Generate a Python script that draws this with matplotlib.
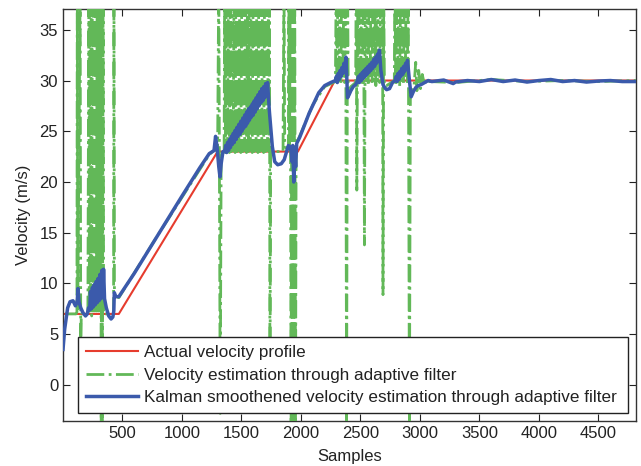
import matplotlib
matplotlib.use("Agg")
import matplotlib.pyplot as plt

plt.rcParams['font.family'] = ['Liberation Sans', 'DejaVu Sans']

# ---------------- data ----------------
red_x = [1, 470, 1300, 1975, 2285, 4815]
red_y = [7.0, 7.0, 23.0, 23.0, 30.0, 30.0]

green_x = [20, 110, 118, 121, 125, 145, 150, 155, 210,
           218, 222, 228, 232, 238, 242, 248, 252, 258, 262, 268, 272, 278, 282,
           288, 292, 298, 302, 308, 312, 318, 322, 328, 332, 338, 342, 348,
           355, 420, 426, 429, 433, 440, 470, 800, 1230, 1280, 1300,
           1310, 1322, 1330, 1345, 1355,
           1359, 1367, 1375, 1383, 1391, 1399, 1407, 1415, 1423, 1431, 1439, 1447,
           1455, 1463, 1471, 1479, 1487, 1495, 1503, 1511, 1519, 1527, 1535, 1543,
           1551, 1559, 1567, 1575, 1583, 1591, 1599, 1607, 1615, 1623, 1631, 1639,
           1647, 1655, 1663, 1671, 1679, 1687, 1695, 1703, 1711, 1719, 1727, 1733,
           1736, 1740, 1746, 1850, 1858, 1864, 1880, 1895,
           1898, 1905, 1910, 1918, 1924, 1930, 1936, 1942, 1948, 1955, 1960, 1970,
           2000, 2100, 2200, 2290,
           2296, 2304, 2312, 2320, 2328, 2336, 2344, 2352, 2360, 2368, 2376, 2384,
           2392, 2398, 2420, 2440, 2460, 2466, 2470, 2478, 2486, 2494, 2502, 2510,
           2518, 2526, 2534, 2542, 2550, 2558, 2566, 2574, 2582, 2590, 2598, 2606,
           2614, 2622, 2630, 2638, 2646, 2654, 2662, 2670, 2678, 2686, 2690, 2696,
           2702, 2720, 2760, 2785,
           2790, 2798, 2806, 2814, 2822, 2830, 2838, 2846, 2854, 2862, 2870, 2878,
           2886, 2894, 2902, 2912, 2920, 2935, 2950, 2965, 2975, 2990, 3005, 3020,
           3040, 3060, 3080, 3300, 3600, 3900, 4200, 4500, 4815]
green_y = [7.0, 7.0, 7.2, 41.3, 7.5, 39.2, 4.0, 7.0, 7.0,
           38.4, 7.0, 41.7, 7.2, 39.6, 6.8, 42.8, 7.0, 38.9, 8.5, 40.9, 7.0, 43.2, 9.0,
           39.3, 7.0, 41.1, 8.8, 38.2, 7.0, 42.1, -4.0, 39.8, -4.0, 41.4, 7.0, 7.0,
           7.0, 7.0, 7.0, 40.5, 9.0, 8.8, 8.6, 14.8, 22.7, 23.2, 23.0,
           40.3, -2.8, 22.5, 23.0, 23.0,
           38.2, 22.9, 41.5, 23.1, 39.4, 22.9, 42.7, 23.0, 37.8, 23.1, 40.6, 22.9,
           43.1, 23.0, 39.0, 23.1, 41.9, 22.9, 38.6, 23.0, 42.3, 23.1, 40.1, 22.9,
           37.9, 23.0, 41.2, 23.1, 43.4, 22.9, 39.7, 23.0, 38.3, 23.1, 42.0, 22.9,
           40.8, 23.0, 38.7, 23.1, 43.0, 22.9, 39.2, 23.0, 41.6, 23.1, 38.0, 23.0,
           41.0, -2.2, 23.0, 23.0, 39.5, 23.5, 23.3, 23.5,
           40.7, 23.2, 38.5, -3.8, 42.2, -3.8, 39.3, -3.8, 41.4, -3.8, 23.5, 24.0,
           24.8, 27.6, 29.4, 29.9,
           38.6, 29.8, 41.8, 30.0, 39.5, 29.6, 42.6, 30.2, 38.1, 29.8, 40.9, -3.5,
           39.9, 29.0, 29.4, 29.6, 29.8, 42.4, 19.2, 38.8, 29.5, 41.3, 30.0, 39.1,
           29.5, 43.0, 13.8, 40.2, 30.0, 38.4, 29.5, 42.0, 30.2, 39.6, 29.6, 41.5,
           30.0, 38.0, 29.5, 40.7, 30.0, 42.9, 29.8, 39.0, 30.0, 41.2, 8.9, 38.7,
           29.5, 29.5, 29.8, 30.0,
           40.4, 29.5, 38.3, 30.0, 42.5, 29.4, 39.7, 30.0, 41.6, 29.6, 38.9, 30.2,
           43.0, 29.6, 40.0, -3.5, 28.5, 29.0, 29.3, 31.8, 29.0, 31.0, 29.2, 30.6,
           29.5, 30.2, 29.9, 29.8, 30.1, 29.9, 30.0, 29.9, 30.0]

blue_x = [1, 15, 40, 60, 85, 105, 120, 127, 135, 150, 170, 190, 205, 215,
          225, 232, 240, 248, 256, 264, 272, 280, 288, 296, 304, 312, 320, 328,
          336, 342, 350, 365, 385, 405, 420, 428, 432, 445, 470,
          600, 800, 1000, 1150, 1230, 1270, 1283, 1295, 1310, 1320, 1330, 1345, 1360,
          1368, 1376, 1384, 1392, 1400, 1408, 1416, 1424, 1432, 1440, 1448, 1456,
          1464, 1472, 1480, 1488, 1496, 1504, 1512, 1520, 1528, 1536, 1544, 1552,
          1560, 1568, 1576, 1584, 1592, 1600, 1608, 1616, 1624, 1632, 1640, 1648,
          1656, 1664, 1672, 1680, 1688, 1696, 1704, 1712, 1720,
          1735, 1760, 1780, 1805, 1835, 1860, 1880, 1895, 1905, 1915, 1925, 1932,
          1940, 1948, 1956, 1965, 1990, 2070, 2150, 2200, 2250, 2290,
          2298, 2306, 2314, 2322, 2330, 2338, 2346, 2354, 2362, 2370, 2378, 2385,
          2392, 2405, 2420, 2440, 2460, 2476,
          2484, 2492, 2500, 2508, 2516, 2524, 2532, 2540, 2548, 2556, 2564, 2572,
          2580, 2588, 2596, 2604, 2612, 2620, 2628, 2636, 2644, 2652, 2660, 2672,
          2690, 2705, 2720, 2745, 2770, 2792,
          2800, 2808, 2816, 2824, 2832, 2840, 2848, 2856, 2864, 2872, 2880, 2888,
          2896, 2912, 2927, 2945, 2965, 2985, 3010, 3040, 3070,
          3100, 3200, 3280, 3300, 3400, 3500, 3600, 3700, 3800, 3900, 4000, 4100,
          4200, 4300, 4400, 4500, 4600, 4700, 4815]
blue_y = [3.5, 5.5, 7.6, 8.2, 8.3, 7.8, 8.2, 9.5, 8.2, 7.6, 7.1, 6.8, 7.0, 7.6,
          7.4, 9.2, 7.5, 9.6, 7.7, 9.9, 7.9, 10.2, 8.1, 10.5, 8.3, 10.9, 8.5, 11.3,
          8.7, 11.4, 8.5, 7.6, 6.8, 6.5, 6.7, 7.3, 9.1, 8.7, 8.7,
          11.0, 14.8, 18.6, 21.4, 22.8, 23.1, 24.5, 23.5, 21.5, 20.5, 21.8, 23.0, 23.0,
          23.6, 22.9, 23.9, 23.1, 24.2, 23.4, 24.5, 23.7, 24.8, 23.9, 25.1, 24.2,
          25.4, 24.5, 25.7, 24.7, 26.0, 25.0, 26.3, 25.3, 26.6, 25.5, 26.9, 25.8,
          27.2, 26.1, 27.4, 26.4, 27.7, 26.6, 28.0, 26.9, 28.3, 27.2, 28.6, 27.5,
          28.9, 27.8, 29.2, 28.0, 29.4, 28.3, 29.7, 28.6, 29.8,
          27.0, 23.5, 22.0, 21.7, 21.8, 22.2, 23.0, 23.6, 23.3, 23.5, 22.0, 23.6,
          20.0, 23.0, 21.5, 23.8, 24.4, 26.8, 28.8, 29.5, 29.8, 30.0,
          30.4, 29.8, 30.7, 30.1, 31.0, 30.4, 31.3, 30.7, 31.7, 31.0, 32.3, 30.5,
          28.3, 28.6, 29.0, 29.4, 29.6, 30.0,
          30.4, 29.8, 30.6, 30.0, 30.8, 30.2, 31.0, 30.4, 31.2, 30.6, 31.4, 30.8,
          31.6, 31.0, 31.8, 31.2, 32.1, 31.4, 32.3, 31.7, 32.6, 31.9, 33.0, 31.0,
          29.6, 29.3, 29.1, 29.2, 29.8, 30.0,
          30.4, 29.9, 30.7, 30.1, 30.9, 30.4, 31.2, 30.6, 31.4, 30.9, 31.7, 31.1,
          32.0, 30.0, 28.4, 28.9, 29.3, 29.5, 29.6, 29.8, 30.0,
          29.9, 30.05, 29.7, 29.85, 30.0, 29.9, 30.1, 29.9, 30.05, 29.85, 30.0, 30.1,
          29.9, 30.0, 29.85, 29.95, 30.0, 29.9, 29.9]

labels = ["Actual velocity profile",
          "Velocity estimation through adaptive filter",
          "Kalman smoothened velocity estimation through adaptive filter"]
x_ticks = [500, 1000, 1500, 2000, 2500, 3000, 3500, 4000, 4500]
y_ticks = [0, 5, 10, 15, 20, 25, 30, 35]

# ---------------- drawing ----------------
fig = plt.figure(figsize=(6.41, 4.66), dpi=100)
ax = fig.add_axes([0.0983, 0.0966, 0.8937, 0.8841])

ax.plot(red_x, red_y, color='#e63c2e', lw=1.5, label=labels[0], zorder=2)
ax.plot(green_x, green_y, color='#62b858', lw=2.0, ls='-.', label=labels[1], zorder=3)
ax.plot(blue_x, blue_y, color='#3b5aab', lw=2.5, label=labels[2], zorder=4)

ax.set_xlim(1, 4815)
ax.set_ylim(-3.55, 37.05)
ax.set_xticks(x_ticks)
ax.set_yticks(y_ticks)
ax.tick_params(direction='in', top=True, right=True, length=5, width=0.8,
               labelsize=12, colors='#222222')
for s in ax.spines.values():
    s.set_color('#333333')
    s.set_linewidth(1.0)

ax.set_xlabel("Samples", fontsize=12, color='#222222', labelpad=6)
ax.set_ylabel("Velocity (m/s)", fontsize=12, color='#222222', labelpad=6)

leg = ax.legend(loc='lower left', bbox_to_anchor=(0.026, 0.019, 0.96, 0.19),
                mode='expand', fontsize=12.3, handlelength=3.05, borderaxespad=0,
                fancybox=False, framealpha=1, edgecolor='#222222',
                labelspacing=0.45, borderpad=0.45, handletextpad=0.35)
leg.get_frame().set_linewidth(1.0)
for t in leg.get_texts():
    t.set_color('#222222')

fig.savefig("out.png", dpi=100)
